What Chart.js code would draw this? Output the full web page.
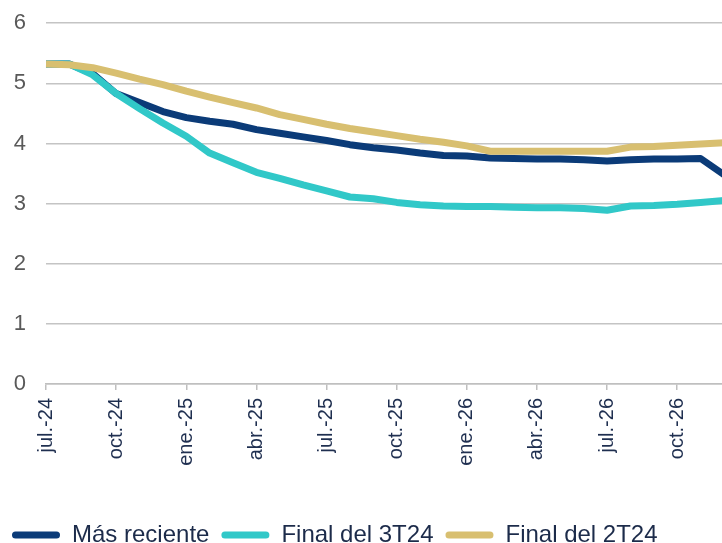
<!DOCTYPE html>
<html>
<head>
<meta charset="utf-8">
<script src="https://cdn.jsdelivr.net/npm/chart.js@4.4.1/dist/chart.umd.min.js"></script>
<style>
  html, body { margin: 0; padding: 0; background: #ffffff; overflow: hidden; }
  #wrap { width: 722px; height: 543px; overflow: hidden; position: relative; }
  canvas { display: block; position: absolute; left: 0; top: -10px; }
</style>
</head>
<body>
<div id="wrap"><canvas id="c" width="724" height="567"></canvas></div>
<script>
const months = ["jul.-24","ago.-24","sep.-24","oct.-24","nov.-24","dic.-24",
  "ene.-25","feb.-25","mar.-25","abr.-25","may.-25","jun.-25",
  "jul.-25","ago.-25","sep.-25","oct.-25","nov.-25","dic.-25",
  "ene.-26","feb.-26","mar.-26","abr.-26","may.-26","jun.-26",
  "jul.-26","ago.-26","sep.-26","oct.-26","nov.-26","dic.-26"];

const masReciente = [5.32,5.32,5.16,4.83,4.68,4.53,4.43,4.37,4.32,4.23,4.17,4.11,
  4.05,3.98,3.93,3.89,3.84,3.80,3.79,3.76,3.75,3.74,3.74,3.73,3.71,3.73,3.74,3.74,3.75,3.48];

const final3T24 = [5.32,5.32,5.14,4.83,4.58,4.34,4.12,3.84,3.68,3.52,3.42,3.31,
  3.21,3.11,3.08,3.02,2.98,2.96,2.95,2.95,2.94,2.93,2.93,2.92,2.89,2.96,2.97,2.99,3.02,3.05];

const final2T24 = [5.32,5.31,5.26,5.17,5.07,4.98,4.87,4.77,4.68,4.59,4.48,4.40,
  4.32,4.25,4.19,4.13,4.07,4.02,3.96,3.87,3.87,3.87,3.87,3.87,3.87,3.94,3.95,3.97,3.99,4.01];

const seriesNames = ["Más reciente", "Final del 3T24", "Final del 2T24"];
const yTicks = [0, 1, 2, 3, 4, 5, 6];

const colNavy = "#0b3b78";
const colTeal = "#31c8c8";
const colGold = "#d8bf70";
const font = "'Liberation Sans', Arial, sans-serif";

new Chart(document.getElementById("c"), {
  type: "line",
  data: {
    labels: months,
    datasets: [
      { label: seriesNames[0], data: masReciente, borderColor: colNavy, backgroundColor: colNavy, order: 2 },
      { label: seriesNames[1], data: final3T24, borderColor: colTeal, backgroundColor: colTeal, order: 1 },
      { label: seriesNames[2], data: final2T24, borderColor: colGold, backgroundColor: colGold, order: 0 }
    ]
  },
  options: {
    responsive: false,
    animation: false,
    devicePixelRatio: 1,
    elements: {
      line: { borderWidth: 7, tension: 0, borderJoinStyle: "round", borderCapStyle: "butt" },
      point: { radius: 0 }
    },
    layout: { padding: { top: 0, left: 0, right: 0, bottom: 0 } },
    plugins: {
      tooltip: { enabled: false },
      legend: {
        position: "bottom",
        align: "start",
        labels: {
          font: { family: font, size: 24 },
          color: "#1c2b4a",
          boxWidth: 48,
          boxHeight: 7,
          padding: 12,
          useBorderRadius: true,
          borderRadius: 3.5,
          generateLabels: (chart) => chart.data.datasets.map((ds, i) => ({
            text: ds.label,
            fillStyle: ds.borderColor,
            strokeStyle: ds.borderColor,
            lineWidth: 0,
            borderRadius: 3.5,
            fontColor: "#1c2b4a",
            hidden: false,
            datasetIndex: i
          }))
        }
      }
    },
    scales: {
      x: {
        type: "category",
        offset: false,
        afterFit: (s) => { s.height = 127; },
        grid: { display: true, drawOnChartArea: false, drawTicks: true, tickLength: 6, color: "#bfbfbf", lineWidth: 1.5 },
        border: { display: true, color: "#bfbfbf", width: 1.5 },
        ticks: {
          autoSkip: false,
          maxRotation: 90,
          minRotation: 90,
          padding: 8,
          color: "#1f2f50",
          font: { family: font, size: 20 },
          callback: function (value, index) {
            return index % 3 === 0 ? months[index] : null;
          }
        }
      },
      y: {
        min: 0,
        max: 6,
        afterFit: (s) => { s.width = 46; },
        afterBuildTicks: (s) => { s.ticks = yTicks.map(v => ({ value: v })); },
        grid: { color: "#c4c4c4", lineWidth: 1.5, drawTicks: false },
        border: { display: false },
        ticks: {
          padding: 20,
          color: "#595959",
          font: { family: font, size: 22 }
        }
      }
    }
  }
});
</script>
</body>
</html>
